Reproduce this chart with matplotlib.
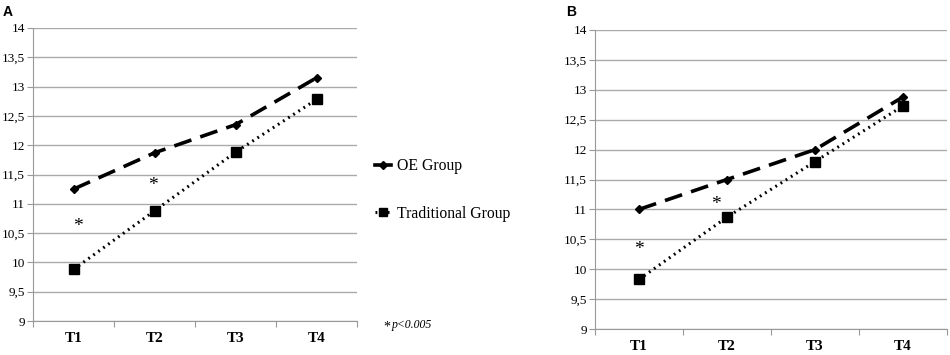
import matplotlib
matplotlib.use("Agg")
import matplotlib.pyplot as plt
from matplotlib.lines import Line2D

categories = ["T1", "T2", "T3", "T4"]
y_ticks = [9, 9.5, 10, 10.5, 11, 11.5, 12, 12.5, 13, 13.5, 14]
y_tick_labels = ["9", "9,5", "10", "10,5", "11", "11,5", "12", "12,5", "13", "13,5", "14"]

a_oe = [11.25, 11.87, 12.35, 13.15]
a_trad = [9.88, 10.88, 11.88, 12.78]
b_oe = [11.0, 11.5, 12.0, 12.88]
b_trad = [9.83, 10.87, 11.80, 12.73]

# asterisk annotations: (category index, offset, value)
a_stars = [(0, 0.05, 10.62), (1, -0.02, 11.32)]
b_stars = [(0, 0.0, 10.33), (1, -0.13, 11.08)]

serif = "Liberation Serif"
sans = "Liberation Sans"

OE_STYLE = dict(color="black", lw=2.6, linestyle=(0, (5, 2.6)), marker="D", markersize=4.5)
TR_STYLE = dict(color="black", lw=2.2, linestyle=(0, (0.6, 1.4)), marker="s", markersize=6.5)

fig = plt.figure(figsize=(9.5, 3.55), dpi=100)
axA = fig.add_axes([33/950, 1-321/355, 324/950, (321-28)/355])
axB = fig.add_axes([595/950, 1-329/355, 352/950, (329-30)/355])

def draw(ax, oe, trad, stars):
    xs = [i + 0.5 for i in range(len(categories))]
    ax.plot(xs, oe, zorder=3, **OE_STYLE)
    ax.plot(xs, trad, zorder=3, **TR_STYLE)
    for idx, dx, v in stars:
        ax.text(idx + 0.5 + dx, v, "*", ha="center", va="center",
                fontsize=14, family=serif)
    ax.set_xlim(0, 4)
    ax.set_ylim(9, 14)
    ax.set_yticks(y_ticks)
    ax.set_yticklabels(y_tick_labels, family=serif, fontsize=9.5)
    ax.set_xticks(range(5))
    ax.set_xticklabels([])
    ax.set_xticks(xs, minor=True)
    ax.set_xticklabels(categories, minor=True, family=serif, fontsize=11, fontweight="bold")
    ax.tick_params(axis="x", which="minor", length=0, pad=8)
    ax.tick_params(axis="x", which="major", length=4, color="#999999", direction="out")
    ax.tick_params(axis="y", length=4, color="#999999", direction="out", pad=2)
    ax.grid(axis="y", color="#aaaaaa", lw=1)
    ax.set_axisbelow(True)
    for s in ["top", "right"]:
        ax.spines[s].set_visible(False)
    for s in ["left", "bottom"]:
        ax.spines[s].set_color("#999999")

draw(axA, a_oe, a_trad, a_stars)
draw(axB, b_oe, b_trad, b_stars)

fig.text(3/950, 1-12/355, "A", family=sans, fontweight="bold", fontsize=10, va="center")
fig.text(566/950, 1-12/355, "B", family=sans, fontweight="bold", fontsize=10, va="center")

handles = [
    Line2D([], [], color="black", lw=2.6, linestyle="-", marker="D", markersize=4, markevery=[1]),
    Line2D([], [], color="black", lw=2.2, linestyle=(0, (0.6, 1.4)), marker="s", markersize=5.5),
]
fig.legend(handles, ["OE Group", "Traditional Group"], loc="upper left",
           bbox_to_anchor=(361/950, 1-144/355), frameon=False,
           prop={"family": serif, "size": 11.3}, handlelength=1.0, handletextpad=0.4,
           labelspacing=2.0)

fig.text(383/950, 1-327/355, "*", family=serif, fontsize=10, va="center")
fig.text(392/950, 1-325/355, "p<0.005", family=serif, style="italic", fontsize=8.5, va="center")

fig.savefig("out.png", dpi=100)
